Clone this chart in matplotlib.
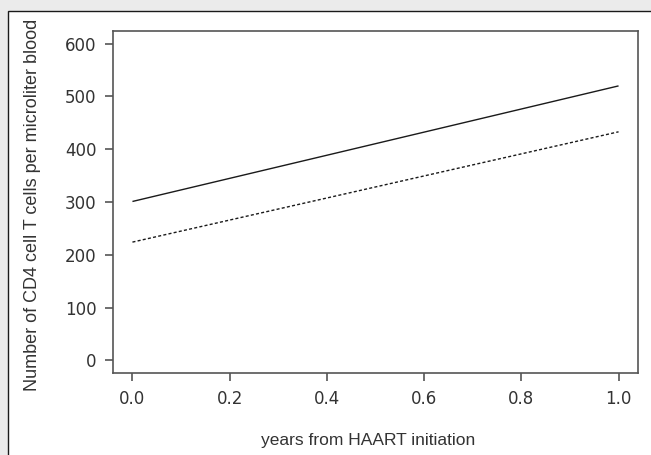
import matplotlib.pyplot as plt
from matplotlib.patches import Rectangle

# years from HAART initiation and fitted CD4 counts
years = [0.0, 1.0]
cd4_solid = [301, 520]
cd4_dotted = [224, 433]

xticks = [0.0, 0.2, 0.4, 0.6, 0.8, 1.0]
yticks = [0, 100, 200, 300, 400, 500, 600]

plt.rcParams['font.family'] = ['Liberation Sans', 'DejaVu Sans']

fig = plt.figure(figsize=(6.51, 4.55), dpi=100)
fig.patch.set_facecolor('#ebebeb')

# white panel with black border, running off the right and bottom edges
fig.patches.append(Rectangle((8/651, -0.2), 1.2, 1 - 11/455 + 0.2,
                             transform=fig.transFigure, facecolor='white',
                             edgecolor='#1a1a1a', lw=1.0, zorder=-5))

ax = fig.add_axes([113/651, 1 - 373/455, (638 - 113)/651, (373 - 31)/455])
ax.set_zorder(2)
ax.set_facecolor('white')

ax.plot(years, cd4_solid, color='#1a1a1a', lw=1.0, solid_capstyle='butt')
ax.plot(years, cd4_dotted, color='#1a1a1a', lw=1.0, linestyle=(0, (2.2, 1.6)))

ax.set_xlim(-0.04, 1.04)
ax.set_ylim(-24, 624)
ax.set_xticks(xticks)
ax.set_xticklabels(['%.1f' % t for t in xticks], family='DejaVu Sans')
ax.set_yticks(yticks)
ax.set_yticklabels([str(t) for t in yticks], family='DejaVu Sans')

for s in ax.spines.values():
    s.set_color('#555555')
    s.set_linewidth(1.2)
ax.tick_params(colors='#555555', labelcolor='#333333', length=6, width=1.2,
               labelsize=12, pad=6)

fig.text(33/651, 1 - 205/455, 'Number of CD4 cell T cells per microliter blood',
         rotation=90, ha='center', va='center', fontsize=13, color='#333333')
fig.text(368/651, 1 - 441/455, 'years from HAART initiation',
         ha='center', va='center', fontsize=12.5, color='#333333')

fig.savefig('out.png', dpi=100, facecolor=fig.get_facecolor())
